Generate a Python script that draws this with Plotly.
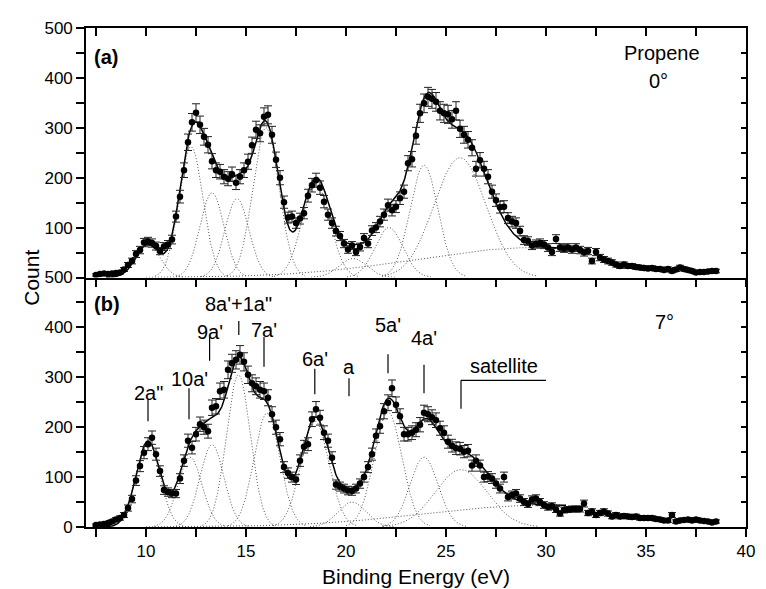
import numpy as np
import plotly.graph_objects as go

# ---------------- data ----------------
energy = [round(7.5 + 0.2 * i, 1) for i in range(156)]  # binding energy grid (eV), 7.5 ... 38.5

counts_a = [
    5, 7, 8, 7, 8, 9, 10, 16, 25, 33,
    47, 55, 70, 72, 69, 63, 53, 62, 66, 76,
    122, 162, 215, 271, 311, 330, 306, 282, 266, 233,
    215, 212, 202, 198, 207, 190, 202, 215, 232, 265,
    296, 289, 322, 326, 286, 236, 200, 151, 120, 122,
    109, 118, 129, 164, 185, 195, 180, 152, 126, 109,
    93, 83, 68, 56, 64, 51, 61, 79, 68, 94,
    100, 112, 126, 145, 135, 142, 159, 172, 229, 237,
    284, 329, 349, 362, 358, 352, 334, 329, 327, 317,
    334, 298, 286, 276, 260, 218, 235, 218, 202, 172,
    155, 141, 142, 119, 112, 109, 93, 75, 73, 64,
    67, 69, 66, 60, 51, 77, 60, 58, 60, 56,
    60, 55, 50, 53, 33, 51, 40, 36, 33, 30,
    26, 23, 26, 23, 23, 21, 20, 19, 18, 19,
    17, 17, 15, 17, 13, 16, 20, 17, 15, 13,
    10, 11, 11, 12, 13, 13,
]

counts_b = [
    4, 5, 6, 8, 11, 15, 18, 24, 38, 56,
    93, 122, 149, 166, 179, 146, 112, 74, 70, 67,
    67, 97, 133, 173, 159, 186, 206, 200, 192, 239,
    242, 272, 275, 315, 328, 335, 345, 331, 305, 288,
    282, 275, 272, 259, 226, 200, 176, 120, 108, 100,
    95, 133, 161, 166, 216, 236, 219, 189, 173, 139,
    85, 81, 77, 73, 72, 77, 87, 100, 120, 146,
    183, 202, 232, 249, 278, 245, 222, 186, 186, 189,
    195, 205, 229, 226, 220, 214, 198, 189, 171, 163,
    158, 157, 151, 153, 123, 133, 123, 100, 101, 97,
    87, 77, 100, 60, 64, 67, 57, 50, 46, 55,
    57, 50, 44, 40, 42, 35, 27, 34, 35, 36,
    36, 36, 47, 28, 31, 24, 28, 31, 27, 21,
    24, 21, 22, 21, 20, 21, 18, 18, 18, 18,
    16, 15, 13, 13, 24, 11, 13, 14, 15, 13,
    15, 13, 12, 11, 9, 11,
]

# Gaussian fit components (centre eV, height counts, sigma eV)
comp_names = ['2a"', "10a'", "9a'", "8a'+1a\"", "7a'", "6a'", "a", "5a'", "4a'", "satellite"]
centers_a = [10.1, 12.25, 13.3, 14.55, 16.0, 18.5, 20.35, 22.15, 23.9, 25.7]
heights_a = [66, 262, 170, 158, 300, 188, 38, 100, 225, 240]
centers_b = [10.1, 12.2, 13.3, 14.62, 16.05, 18.45, 20.3, 22.1, 23.9, 25.75]
heights_b = [172, 140, 165, 305, 228, 212, 50, 230, 140, 115]
sigmas = [0.6, 0.6, 0.6, 0.6, 0.65, 0.7, 0.7, 0.7, 0.7, 1.3]
# broad background (centre, height, sigma)
bg_a = [29.5, 60, 6.0]
bg_b = [30.0, 44, 6.0]
fit_range = [8.0, 31.0]
bg_range = [10.0, 31.0]

# peak labels in panel (b): text, x (eV), text y, line top, line bottom (counts)
lab_text = ['2a"', "10a'", "9a'", "8a'+1a\"", "7a'", "6a'", "a", "5a'", "4a'"]
lab_x = [10.1, 12.15, 13.18, 14.64, 15.9, 18.44, 20.15, 22.1, 23.9]
lab_ty = [268, 296, 391, 446, 395, 337, 321, 405, 379]
lab_top = [256, 278, 381, 413, 381, 317, 298, 346, 325]
lab_bot = [212, 216, 333, 385, 321, 266, 262, 308, 268]
sat_x = [25.75, 30.0]
sat_y = [294, 237, 323]  # bracket level, bracket foot, text

FONT = "Arial, Liberation Sans, sans-serif"


def gauss(x, c, h, s):
    return h * np.exp(-((x - c) ** 2) / (2 * s * s))


fig = go.Figure()
DOT = dict(color="#555", width=1, dash="1px,2px")


def add_panel(counts, centers, heights, bg, xa, ya):
    e = np.array(energy)
    cnt = np.array(counts, dtype=float)
    # components
    for c, h, s in zip(centers, heights, sigmas):
        xx = np.linspace(c - 3 * s, c + 3 * s, 120)
        fig.add_trace(go.Scatter(x=xx, y=gauss(xx, c, h, s), mode="lines", line=DOT,
                                 xaxis=xa, yaxis=ya, showlegend=False, hoverinfo="skip"))
    xb = np.linspace(bg_range[0], bg_range[1], 200)
    fig.add_trace(go.Scatter(x=xb, y=gauss(xb, *bg), mode="lines", line=DOT,
                             xaxis=xa, yaxis=ya, showlegend=False, hoverinfo="skip"))
    # total fit
    xf = np.linspace(fit_range[0], fit_range[1], 600)
    tot = gauss(xf, *bg)
    for c, h, s in zip(centers, heights, sigmas):
        tot = tot + gauss(xf, c, h, s)
    fig.add_trace(go.Scatter(x=xf, y=tot, mode="lines", line=dict(color="black", width=1.5),
                             xaxis=xa, yaxis=ya, showlegend=False, hoverinfo="skip"))
    # data points with error bars
    fig.add_trace(go.Scatter(x=e, y=cnt, mode="markers",
                             marker=dict(color="black", size=6.5),
                             error_y=dict(type="data", array=np.sqrt(cnt), visible=True,
                                          color="#222", thickness=1, width=4),
                             xaxis=xa, yaxis=ya, showlegend=False))


add_panel(counts_a, centers_a, heights_a, bg_a, "x", "y")
add_panel(counts_b, centers_b, heights_b, bg_b, "x2", "y2")

# dummy traces to register overlay axes
fig.add_trace(go.Scatter(x=[None], y=[None], xaxis="x3", yaxis="y3", showlegend=False))
fig.add_trace(go.Scatter(x=[None], y=[None], xaxis="x2", yaxis="y4", showlegend=False))

axis_common = dict(showline=True, linecolor="black", linewidth=1.6, showgrid=False,
                   zeroline=False, tickcolor="black", tickwidth=1.5)
xr = [7, 40]
tickfont = dict(family=FONT, size=17, color="black")
mtick = dict(tickcolor="black", tickwidth=1.5)

fig.update_layout(
    width=758, height=581,
    margin=dict(l=78, r=11, t=15, b=62),
    paper_bgcolor="white", plot_bgcolor="white",
    xaxis=dict(**axis_common, domain=[0, 1], anchor="y", range=xr, ticks="outside", ticklen=8,
               dtick=5, tick0=0, showticklabels=False,
               minor=dict(dtick=2.5, tick0=0, ticks="outside", ticklen=8, **mtick)),
    xaxis3=dict(**axis_common, overlaying="x", anchor="y", side="top", range=xr, ticks="inside",
                ticklen=8, dtick=5, tick0=0, showticklabels=False,
                minor=dict(dtick=2.5, tick0=0, ticks="inside", ticklen=8, **mtick)),
    xaxis2=dict(**axis_common, domain=[0, 1], anchor="y2", range=xr, ticks="outside", ticklen=8,
                dtick=5, tick0=0, tickfont=tickfont,
                minor=dict(dtick=2.5, tick0=0, ticks="outside", ticklen=8, **mtick)),
    yaxis=dict(**axis_common, domain=[0.5, 1], anchor="x", range=[0, 500], ticks="outside", ticklen=8,
               tickvals=[100, 200, 300, 400, 500], tickfont=tickfont,
               minor=dict(dtick=50, tick0=0, ticks="outside", ticklen=8, **mtick)),
    yaxis3=dict(**axis_common, overlaying="y", anchor="x3", side="right", range=[0, 500], ticks="inside",
                ticklen=5, dtick=100, showticklabels=False,
                minor=dict(dtick=50, tick0=0, ticks="inside", ticklen=5, **mtick)),
    yaxis2=dict(**axis_common, domain=[0, 0.5], anchor="x2", range=[0, 500], ticks="outside", ticklen=8,
                dtick=100, tick0=0, tickfont=tickfont,
                minor=dict(dtick=50, tick0=0, ticks="outside", ticklen=8, **mtick)),
    yaxis4=dict(**axis_common, overlaying="y2", anchor="x2", side="right", range=[0, 500], ticks="inside",
                ticklen=5, dtick=100, showticklabels=False,
                minor=dict(dtick=50, tick0=0, ticks="inside", ticklen=5, **mtick)),
)

ann = []
lblfont = dict(family=FONT, size=20, color="black")
boldfont = dict(family=FONT, size=20, color="black")
# panel letters and titles
ann.append(dict(x=7.3, y=442, xref="x", yref="y", text="<b>(a)</b>", showarrow=False,
                xanchor="left", yanchor="middle", font=boldfont))
ann.append(dict(x=7.3, y=446, xref="x2", yref="y2", text="<b>(b)</b>", showarrow=False,
                xanchor="left", yanchor="middle", font=boldfont))
ann.append(dict(x=35.8, y=450, xref="x", yref="y", text="Propene", showarrow=False,
                xanchor="center", yanchor="middle", font=lblfont))
ann.append(dict(x=35.6, y=393, xref="x", yref="y", text="0°", showarrow=False,
                xanchor="center", yanchor="middle", font=lblfont))
ann.append(dict(x=35.9, y=411, xref="x2", yref="y2", text="7°", showarrow=False,
                xanchor="center", yanchor="middle", font=lblfont))

shapes = []
for t, x, ty, yt, yb in zip(lab_text, lab_x, lab_ty, lab_top, lab_bot):
    ann.append(dict(x=x, y=ty, xref="x2", yref="y2", text=t, showarrow=False,
                    xanchor="center", yanchor="middle", font=lblfont))
    shapes.append(dict(type="line", xref="x2", yref="y2", x0=x, x1=x, y0=yb, y1=yt,
                       line=dict(color="black", width=1.2)))
# satellite bracket
ann.append(dict(x=(sat_x[0] + sat_x[1]) / 2, y=sat_y[2], xref="x2", yref="y2", text="satellite",
                showarrow=False, xanchor="center", yanchor="middle", font=lblfont))
shapes.append(dict(type="line", xref="x2", yref="y2", x0=sat_x[0], x1=sat_x[1], y0=sat_y[0], y1=sat_y[0],
                   line=dict(color="black", width=1.2)))
shapes.append(dict(type="line", xref="x2", yref="y2", x0=sat_x[0], x1=sat_x[0], y0=sat_y[1], y1=sat_y[0],
                   line=dict(color="black", width=1.2)))

# axis titles
ann.append(dict(x=-0.083, y=0.5, xref="paper", yref="paper", text="Count", showarrow=False,
                textangle=-90, xanchor="center", yanchor="middle",
                font=dict(family=FONT, size=21, color="black")))
ann.append(dict(x=0.5, y=-0.099, xref="paper", yref="paper", text="Binding Energy (eV)", showarrow=False,
                xanchor="center", yanchor="middle", font=dict(family=FONT, size=21, color="black")))

fig.update_layout(annotations=ann, shapes=shapes)
fig.write_html("out.html")
